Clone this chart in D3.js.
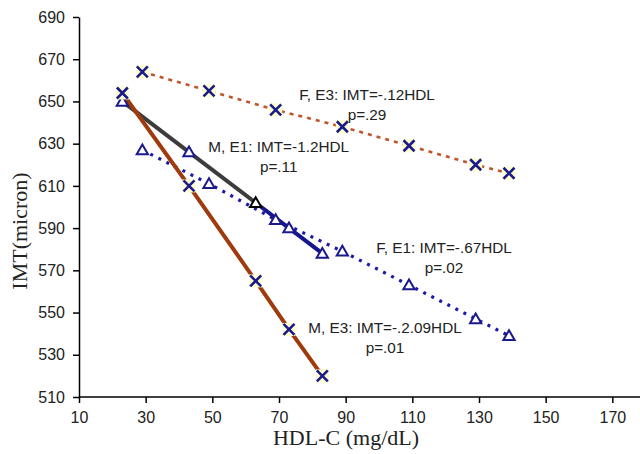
<!DOCTYPE html>
<html>
<head>
<meta charset="utf-8">
<script src="https://cdn.jsdelivr.net/npm/d3@7"></script>
<style>
  body { margin: 0; background: #fff; }
  svg { display: block; }
  .axis path, .axis line { stroke: #000; stroke-width: 1.5; }
  .axis text { font-family: "Liberation Sans", Arial, sans-serif; font-size: 16px; fill: #222; }
  .note { font-family: "Liberation Sans", Arial, sans-serif; font-size: 15.3px; fill: #222; }
  .title { font-family: "Liberation Serif", "Times New Roman", serif; font-size: 22px; fill: #222; }
</style>
</head>
<body>
<svg id="chart" width="640" height="454"></svg>
<script>
// HDL-C values (mg/dL) for the female and male groups
const hdlF = [29, 49, 69, 89, 109, 129, 139];
const hdlM = [23, 43, 63, 73, 83];

// IMT (micron) per group
const imtFE3 = [664, 655, 646, 638, 629, 620, 616];
const imtFE1 = [627, 611, 594, 579, 563, 547, 539];
const imtME3 = [654, 610, 565, 542, 520];
const imtME1 = [650, 626, 602, 590, 578];

const xTicks = [10, 30, 50, 70, 90, 110, 130, 150, 170];
const yTicks = [510, 530, 550, 570, 590, 610, 630, 650, 670, 690];

// annotation text, anchored in data units (centre, first baseline)
const notes = [
    {lines: ["F, E3: IMT=-.12HDL", "p=.29"], hdl: 96.4, imt: 650.7},
    {lines: ["M, E1: IMT=-1.2HDL", "p=.11"], hdl: 69.9, imt: 626},
    {lines: ["F, E1: IMT=-.67HDL", "p=.02"], hdl: 119.5, imt: 578.2},
    {lines: ["M, E3: IMT=-.2.09HDL", "p=.01"], hdl: 101.8, imt: 540.3}
];

const svg = d3.select("#chart");
const padding = {top: 17, left: 79};
const plotH = 380;

const x = d3.scaleLinear().domain([10, 190]).range([padding.left, padding.left + 600]);
const y = d3.scaleLinear().domain([510, 690]).range([padding.top + plotH, padding.top]);

const navy = "#1a1a8c";

// axes
svg.append("g")
    .attr("class", "axis")
    .attr("transform", "translate(0," + y(510) + ")")
    .call(d3.axisBottom(x).tickValues(xTicks).tickSize(6).tickPadding(9).tickSizeOuter(0))
    .select(".domain").attr("d", "M" + padding.left + ",0H640");

svg.append("g")
    .attr("class", "axis")
    .attr("transform", "translate(" + padding.left + ",0)")
    .call(d3.axisLeft(y).tickValues(yTicks).tickSize(6).tickPadding(8).tickSizeOuter(0));

svg.append("text")
    .attr("class", "title")
    .attr("x", 346)
    .attr("y", 445)
    .attr("text-anchor", "middle")
    .text("HDL-C (mg/dL)");

svg.append("text")
    .attr("class", "title")
    .attr("transform", "translate(27,231) rotate(-90)")
    .attr("text-anchor", "middle")
    .text("IMT(micron)");

function pts(xs, ys) {
    return xs.map(function(d, i) { return [d, ys[i]]; });
}
let line = d3.line()
    .x(function(d) { return x(d[0]); })
    .y(function(d) { return y(d[1]); });

let fe3 = pts(hdlF, imtFE3);
let fe1 = pts(hdlF, imtFE1);
let me3 = pts(hdlM, imtME3);
let me1 = pts(hdlM, imtME1);

// lines
svg.append("path").datum(fe3).attr("d", line)
    .attr("fill", "none").attr("stroke", "#c0542a").attr("stroke-width", 2.6)
    .attr("stroke-dasharray", "4,5");
svg.append("path").datum(fe1).attr("d", line)
    .attr("fill", "none").attr("stroke", "#1a1aa8").attr("stroke-width", 3.2)
    .attr("stroke-dasharray", "3,6");
svg.append("path").datum(me1.slice(0, 3)).attr("d", line)
    .attr("fill", "none").attr("stroke", "#3c3c3c").attr("stroke-width", 4);
svg.append("path").datum(me1.slice(2)).attr("d", line)
    .attr("fill", "none").attr("stroke", "#16168e").attr("stroke-width", 4);
svg.append("path").datum(me3).attr("d", line)
    .attr("fill", "none").attr("stroke", "#9e3a0c").attr("stroke-width", 4);

// triangle markers
let tri = d3.symbol().type(d3.symbolTriangle).size(55);
svg.selectAll("path.tri")
    .data(fe1.concat(me1))
    .enter()
    .append("path")
    .attr("class", "tri")
    .attr("d", tri)
    .attr("transform", function(d) { return "translate(" + x(d[0]) + "," + (y(d[1]) + 1) + ")"; })
    .attr("fill", "#fff")
    .attr("stroke", function(d) { return d === me1[2] ? "#000" : navy; })
    .attr("stroke-width", 2);

// cross markers on pale squares
let cross = svg.selectAll("g.cross")
    .data(fe3.concat(me3))
    .enter()
    .append("g")
    .attr("class", "cross")
    .attr("transform", function(d) { return "translate(" + x(d[0]) + "," + y(d[1]) + ")"; });
cross.append("rect")
    .attr("x", -6.5).attr("y", -6.5).attr("width", 13).attr("height", 13)
    .attr("fill", "#ffffcc");
cross.append("path")
    .attr("d", "M-5.5,-5.5L5.5,5.5M-5.5,5.5L5.5,-5.5")
    .attr("stroke", navy).attr("stroke-width", 2.6);

// annotations
notes.forEach(function(n) {
    let t = svg.append("text")
        .attr("class", "note")
        .attr("text-anchor", "middle");
    n.lines.forEach(function(s, i) {
        t.append("tspan")
            .attr("x", x(n.hdl))
            .attr("y", y(n.imt) + i * 20)
            .text(s);
    });
});
</script>
</body>
</html>
